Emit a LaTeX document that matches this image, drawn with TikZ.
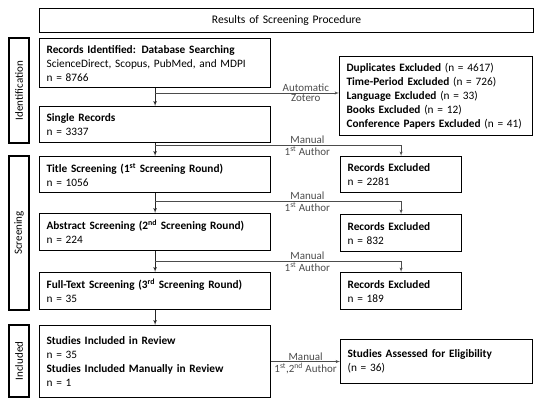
\documentclass[tikz,border=0pt]{standalone}
\usepackage{fontspec}
\setmainfont{Carlito}
\usetikzlibrary{arrows}
\tikzstyle{caja} = [draw, line width=1.2pt, anchor=north west, inner xsep=7pt,
  inner ysep=0pt, align=left, font=\fontsize{11.3}{14}\selectfont]
\tikzstyle{titulo} = [caja, align=center, font=\fontsize{11.6}{14}\selectfont]
\tikzstyle{lado} = [draw, line width=1.2pt, rotate=90, minimum height=20pt,
  inner sep=0pt, font=\fontsize{11}{12}\selectfont]
\tikzstyle{texto} = [font=\fontsize{11}{12}\selectfont, inner sep=1.2pt]
\tikzstyle{line} = [draw, line width=0.7pt, color=black!85, -latex']
\tikzstyle{rama} = [draw, line width=0.5pt, color=black!70, -latex']

\begin{document}
\begin{tikzpicture}[x=1pt,y=-1pt]
  \useasboundingbox (0,0) rectangle (550,403);

  % Title and phases
  \path (39,8) node (t0) [titulo, text width=480pt, minimum height=24pt]
    {Results of Screening Procedure};
  \path (19,90.5) node (l1) [lado, minimum width=105pt] {Identification};
  \path (19,233) node (l2) [lado, minimum width=154pt] {Screening};
  \path (19,361) node (l3) [lado, minimum width=72pt] {Included};

  % Left column
  \path (39,38) node (p1) [caja, text width=217pt, minimum height=49pt]
    {\textbf{Records Identified: Database Searching}\\
     ScienceDirect, Scopus, PubMed, and MDPI\\ n = 8766};
  \path (39,106) node (p2) [caja, text width=217pt, minimum height=36pt]
    {\textbf{Single Records}\\ n = 3337};
  \path (39,156) node (p3) [caja, text width=217pt, minimum height=36pt]
    {\textbf{Title Screening (1\textsuperscript{st} Screening Round)}\\ n = 1056};
  \path (39,213) node (p4) [caja, text width=217pt, minimum height=37pt]
    {\textbf{Abstract Screening (2\textsuperscript{nd} Screening Round)}\\ n = 224};
  \path (39,272) node (p5) [caja, text width=217pt, minimum height=37pt]
    {\textbf{Full-Text Screening (3\textsuperscript{rd} Screening Round)}\\ n = 35};
  \path (39,325) node (p6) [caja, text width=217pt, minimum height=72pt]
    {\textbf{Studies Included in Review}\\ n = 35\\
     \textbf{Studies Included Manually in Review}\\ n = 1};

  % Right column
  \path (339,56) node (d1) [caja, text width=179pt, minimum height=79pt]
    {\textbf{Duplicates Excluded} (n = 4617)\\
     \textbf{Time-Period Excluded} (n = 726)\\
     \textbf{Language Excluded} (n = 33)\\
     \textbf{Books Excluded} (n = 12)\\
     \textbf{Conference Papers Excluded} (n = 41)};
  \path (340,156) node (e1) [caja, text width=107pt, minimum height=36pt]
    {\textbf{Records Excluded}\\ n = 2281};
  \path (340,214) node (e2) [caja, text width=107pt, minimum height=37pt]
    {\textbf{Records Excluded}\\ n = 832};
  \path (340,272) node (e3) [caja, text width=107pt, minimum height=37pt]
    {\textbf{Records Excluded}\\ n = 189};
  \path (340,339) node (s1) [caja, text width=178pt, minimum height=44pt]
    {\textbf{Studies Assessed for Eligibility}\\ (n = 36)};

  % Branch points
  \coordinate (b1) at (154.5,93);
  \coordinate (b2) at (154.5,145.5);
  \coordinate (b3) at (154.5,201.5);
  \coordinate (b4) at (154.5,261.5);

  % Draw arrows between elements
  \path [line] (p1.south) -- (p2.north);
  \path [line] (p2.south) -- (p3.north);
  \path [line] (p3.south) -- (p4.north);
  \path [line] (p4.south) -- (p5.north);
  \path [line] (p5.south) -- (p6.north);

  \path [rama] (b1) -- node [texto, above, pos=0.82] {Automatic}
    node [texto, below, pos=0.82] {Zotero} (b1 -| d1.west);
  \path [rama] (b2) -| node [texto, above, pos=0.31] {Manual}
    node [texto, below, pos=0.31] {1\textsuperscript{st} Author} (e1.north);
  \path [rama] (b3) -| node [texto, above, pos=0.31] {Manual}
    node [texto, below, pos=0.31] {1\textsuperscript{st} Author} (e2.north);
  \path [rama] (b4) -| node [texto, above, pos=0.31] {Manual}
    node [texto, below, pos=0.31] {1\textsuperscript{st} Author} (e3.north);
  \path [rama] (p6.east) -- node [texto, above] {Manual}
    node [texto, below] {1\textsuperscript{st},2\textsuperscript{nd} Author} (s1.west);
\end{tikzpicture}
\end{document}
